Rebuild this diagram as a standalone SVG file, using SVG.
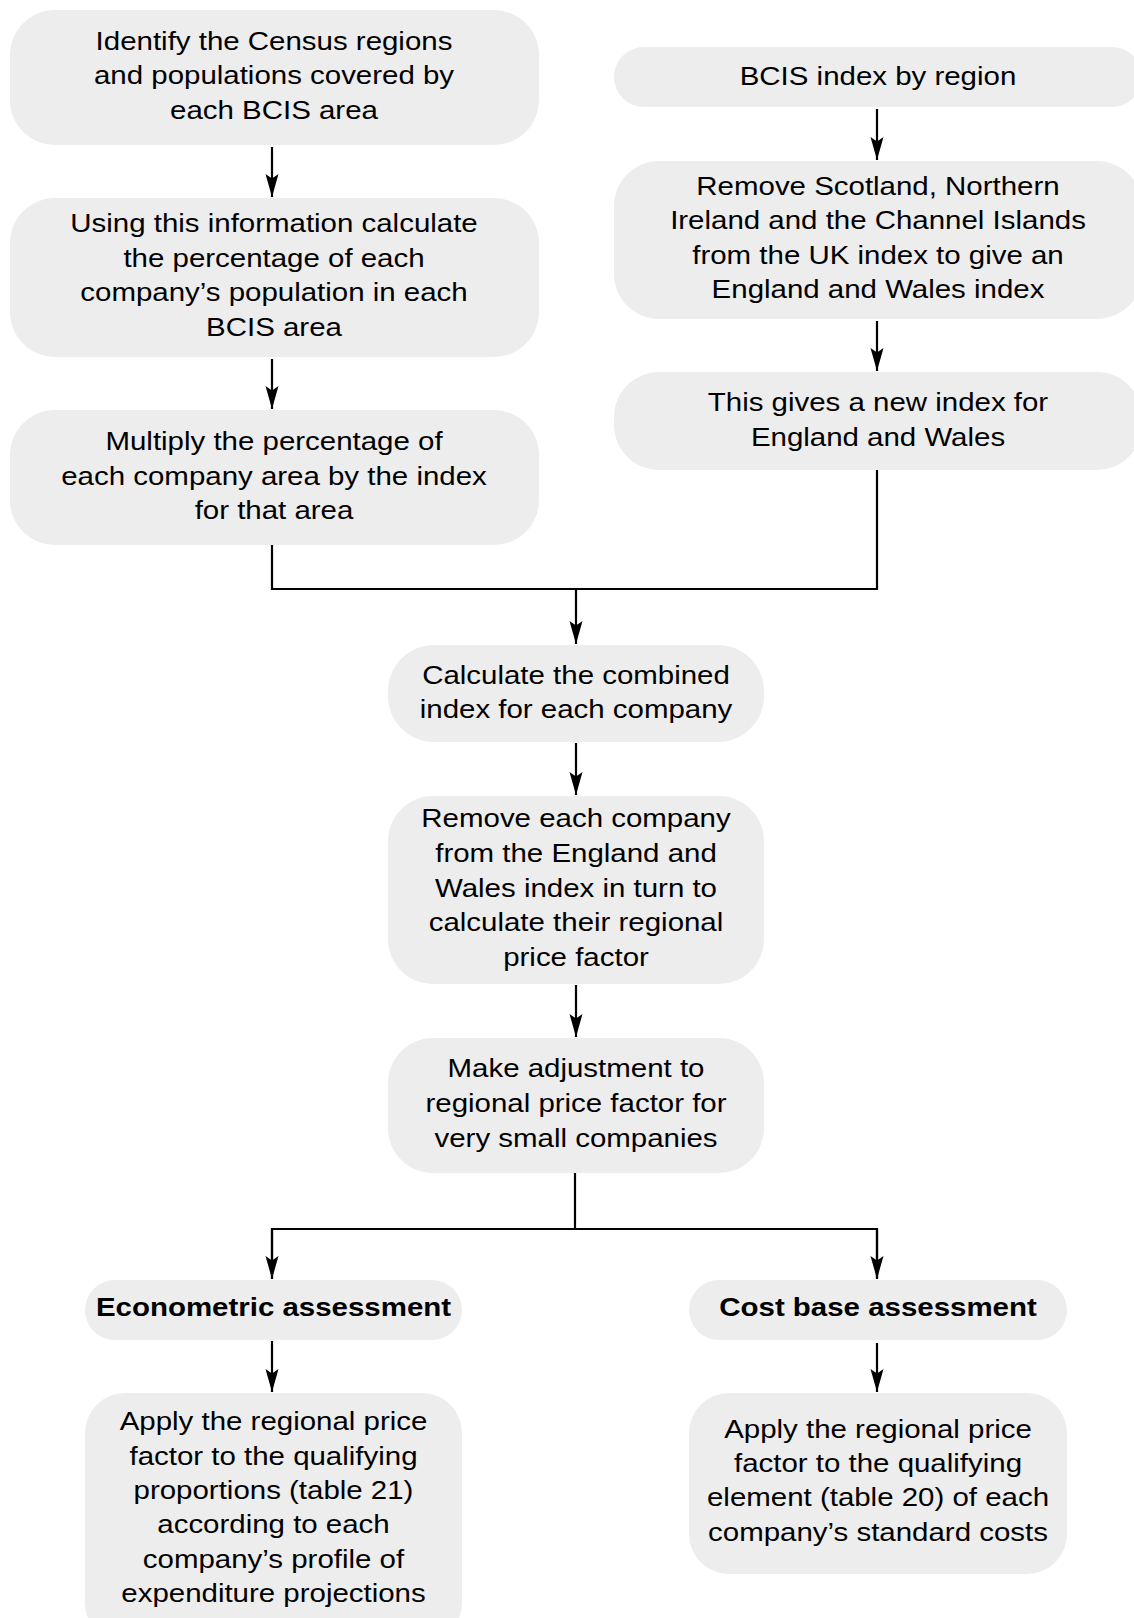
<svg xmlns="http://www.w3.org/2000/svg" width="1134" height="1618" viewBox="0 0 1134 1618">
<style>
.box{fill:#ededed;stroke:none}
.t{font-family:"Liberation Sans",Arial,sans-serif;font-size:26px;fill:#000;text-anchor:middle}
.b{font-weight:bold}
.c{fill:none;stroke:#000;stroke-width:2.2}
</style>
<defs>
<marker id="ah" markerUnits="userSpaceOnUse" viewBox="-24 -7 24 14" markerWidth="24" markerHeight="14" refX="0" refY="0" orient="auto">
<path d="M0,0 L-23,-6.5 L-18.5,0 L-23,6.5 Z" fill="#000"/>
</marker>
</defs>
<rect width="1134" height="1618" fill="#fff"/>

<g id="connectors">
<path class="c" d="M272,147 V197" marker-end="url(#ah)"/>
<path class="c" d="M272,359 V409" marker-end="url(#ah)"/>
<path class="c" d="M877,109 V160" marker-end="url(#ah)"/>
<path class="c" d="M877,321 V371" marker-end="url(#ah)"/>
<path class="c" d="M272,545 V589 H877 V470"/>
<path class="c" d="M576,589 V644" marker-end="url(#ah)"/>
<path class="c" d="M576,743 V795" marker-end="url(#ah)"/>
<path class="c" d="M576,985 V1037" marker-end="url(#ah)"/>
<path class="c" d="M575,1173 V1229"/>
<path class="c" d="M272,1278 V1229 H877 V1278"/>
<path class="c" d="M272,1229 V1279" marker-end="url(#ah)"/>
<path class="c" d="M877,1229 V1279" marker-end="url(#ah)"/>
<path class="c" d="M272,1341 V1392" marker-end="url(#ah)"/>
<path class="c" d="M877,1343 V1392" marker-end="url(#ah)"/>
</g>

<g id="n1">
<rect class="box" x="10" y="10" width="529" height="135" rx="45"/>
<g transform="translate(274,0) scale(1.133,1)">
<text class="t"><tspan x="0" y="50">Identify the Census regions</tspan><tspan x="0" y="84.5">and populations covered by</tspan><tspan x="0" y="119">each BCIS area</tspan></text>
</g>
</g>

<g id="n2">
<rect class="box" x="10" y="198" width="529" height="159" rx="45"/>
<g transform="translate(274,0) scale(1.133,1)">
<text class="t"><tspan x="0" y="232">Using this information calculate</tspan><tspan x="0" y="267">the percentage of each</tspan><tspan x="0" y="301.5">company’s population in each</tspan><tspan x="0" y="336">BCIS area</tspan></text>
</g>
</g>

<g id="n3">
<rect class="box" x="10" y="410" width="529" height="135" rx="45"/>
<g transform="translate(274,0) scale(1.133,1)">
<text class="t"><tspan x="0" y="450.5">Multiply the percentage of</tspan><tspan x="0" y="485.5">each company area by the index</tspan><tspan x="0" y="519.5">for that area</tspan></text>
</g>
</g>

<g id="n4">
<rect class="box" x="614" y="47" width="528" height="60" rx="30"/>
<g transform="translate(878,0) scale(1.133,1)">
<text class="t"><tspan x="0" y="85">BCIS index by region</tspan></text>
</g>
</g>

<g id="n5">
<rect class="box" x="614" y="161" width="528" height="158" rx="45"/>
<g transform="translate(878,0) scale(1.133,1)">
<text class="t"><tspan x="0" y="195">Remove Scotland, Northern</tspan><tspan x="0" y="229.5">Ireland and the Channel Islands</tspan><tspan x="0" y="264">from the UK index to give an</tspan><tspan x="0" y="298.5">England and Wales index</tspan></text>
</g>
</g>

<g id="n6">
<rect class="box" x="614" y="372" width="528" height="98" rx="45"/>
<g transform="translate(878,0) scale(1.133,1)">
<text class="t"><tspan x="0" y="411.5">This gives a new index for</tspan><tspan x="0" y="446">England and Wales</tspan></text>
</g>
</g>

<g id="n7">
<rect class="box" x="388" y="645" width="376" height="97" rx="46"/>
<g transform="translate(576,0) scale(1.133,1)">
<text class="t"><tspan x="0" y="684.5">Calculate the combined</tspan><tspan x="0" y="718.5">index for each company</tspan></text>
</g>
</g>

<g id="n8">
<rect class="box" x="388" y="796" width="376" height="188" rx="45"/>
<g transform="translate(576,0) scale(1.133,1)">
<text class="t"><tspan x="0" y="827.5">Remove each company</tspan><tspan x="0" y="862">from the England and</tspan><tspan x="0" y="897">Wales index in turn to</tspan><tspan x="0" y="931.5">calculate their regional</tspan><tspan x="0" y="966.5">price factor</tspan></text>
</g>
</g>

<g id="n9">
<rect class="box" x="388" y="1038" width="376" height="135" rx="45"/>
<g transform="translate(576,0) scale(1.133,1)">
<text class="t"><tspan x="0" y="1077">Make adjustment to</tspan><tspan x="0" y="1112">regional price factor for</tspan><tspan x="0" y="1147">very small companies</tspan></text>
</g>
</g>

<g id="n10">
<rect class="box" x="85" y="1280" width="377" height="60" rx="30"/>
<g transform="translate(273.5,0) scale(1.133,1)">
<text class="t b"><tspan x="0" y="1316.5">Econometric assessment</tspan></text>
</g>
</g>

<g id="n11">
<rect class="box" x="689" y="1280" width="378" height="60" rx="30"/>
<g transform="translate(878,0) scale(1.133,1)">
<text class="t b"><tspan x="0" y="1316.5">Cost base assessment</tspan></text>
</g>
</g>

<g id="n12">
<rect class="box" x="85" y="1393" width="377" height="250" rx="40"/>
<g transform="translate(273.5,0) scale(1.133,1)">
<text class="t"><tspan x="0" y="1430.5">Apply the regional price</tspan><tspan x="0" y="1465">factor to the qualifying</tspan><tspan x="0" y="1499">proportions (table 21)</tspan><tspan x="0" y="1533.5">according to each</tspan><tspan x="0" y="1568">company’s profile of</tspan><tspan x="0" y="1602.5">expenditure projections</tspan></text>
</g>
</g>

<g id="n13">
<rect class="box" x="689" y="1393" width="378" height="181" rx="40"/>
<g transform="translate(878,0) scale(1.133,1)">
<text class="t"><tspan x="0" y="1438">Apply the regional price</tspan><tspan x="0" y="1472.5">factor to the qualifying</tspan><tspan x="0" y="1506.5">element (table 20) of each</tspan><tspan x="0" y="1541">company’s standard costs</tspan></text>
</g>
</g>
</svg>
